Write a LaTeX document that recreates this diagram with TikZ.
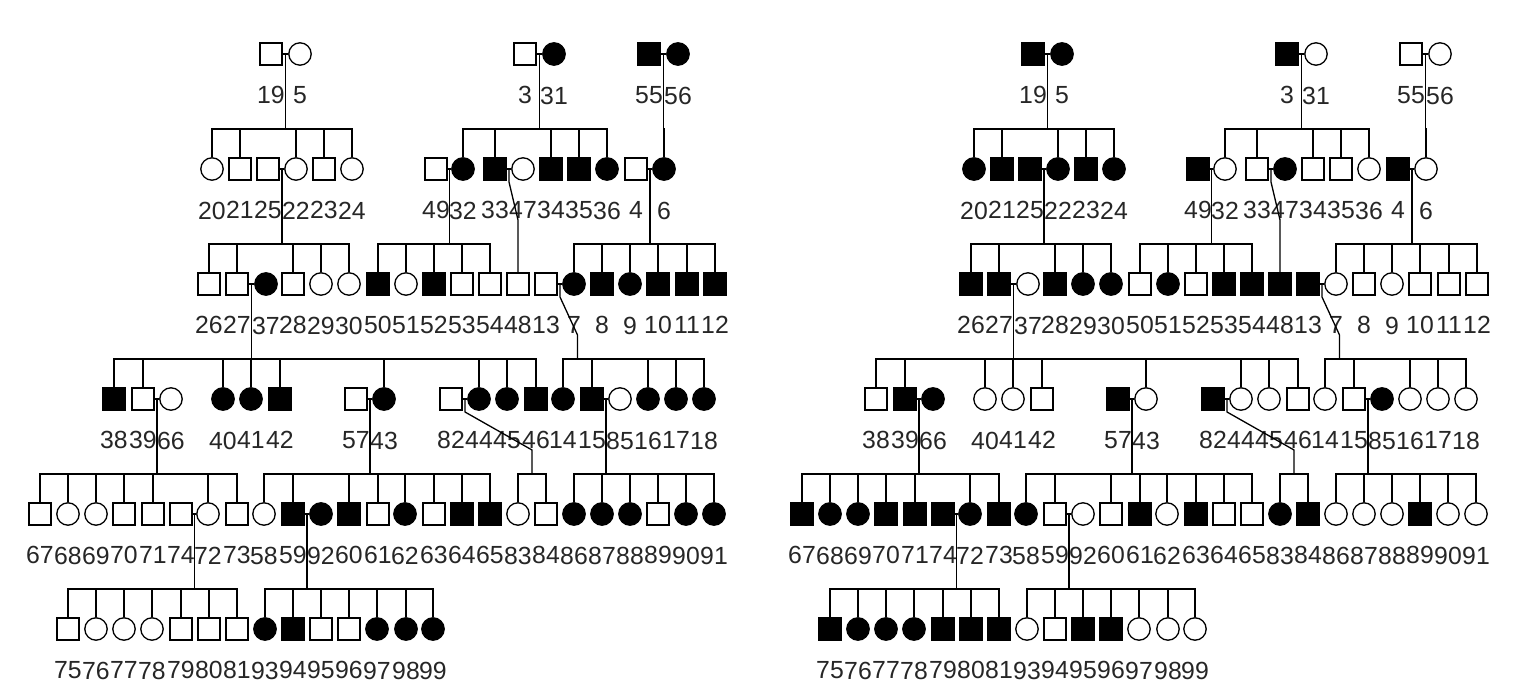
\documentclass[tikz,border=0pt]{standalone}
\usepackage{fontspec}
\setmainfont{Liberation Sans}
\usetikzlibrary{calc}
\tikzset{
	male/.style={draw, rectangle, minimum size=10.9pt, inner sep=0pt},
	female/.style={draw, circle, minimum size=11.2pt, inner sep=0pt},
	lab/.style={font=\fontsize{12.4}{14}\selectfont, inner sep=0pt, text=black!85},
}
\begin{document}
\begin{tikzpicture}[x=0.5pt, y=-0.5pt, line width=0.65pt, label distance=10.2pt]
	\useasboundingbox (0,0) rectangle (1517,694);
	\foreach \side/\dx/\on/\off in {L/0/black/white, R/381/white/black}{
		\begin{scope}[xshift=\dx pt,
			m0/.style={male, fill=\off}, m1/.style={male, fill=\on},
			f0/.style={female, fill=\off}, f1/.style={female, fill=\on}]
		% generation I
		\foreach \i/\x/\s in {19/271/m0, 5/300/f0, 3/525/m0, 31/554/f1, 55/649/m1, 56/678/f1}
			\node[\s, label={[lab]below:\i}] (\side\i) at (\x,54) {};
		% generation II
		\foreach \i/\x/\s in {20/212/f0, 21/240/m0, 25/268/m0, 22/296/f0, 23/324/m0, 24/352/f0,
			49/436/m0, 32/463/f1, 33/495/m1, 47/523/f0, 34/551/m1, 35/579/m1, 36/607/f1, 4/636/m0, 6/664/f1}
			\node[\s, label={[lab]below:\i}] (\side\i) at (\x,169) {};
		% generation III
		\foreach \i/\x/\s in {26/209/m0, 27/237/m0, 37/266/f1, 28/293/m0, 29/321/f0, 30/349/f0,
			50/378/m1, 51/406/f0, 52/434/m1, 53/462/m0, 54/490/m0, 48/518/m0, 13/546/m0,
			7/574/f1, 8/602/m1, 9/630/f1, 10/658/m1, 11/687/m1, 12/715/m1}
			\node[\s, label={[lab]below:\i}] (\side\i) at (\x,284) {};
		% generation IV
		\foreach \i/\x/\s in {38/114/m1, 39/143/m0, 66/171/f0, 40/223/f1, 41/251/f1, 42/280/m1,
			57/356/m0, 43/384/f1, 82/451/m0, 44/479/f1, 45/507/f1, 46/536/m1,
			14/563/f1, 15/592/m1, 85/620/f0, 16/648/f1, 17/676/f1, 18/704/f1}
			\node[\s, label={[lab]below:\i}] (\side\i) at (\x,399) {};
		% generation V
		\foreach \i/\x/\s in {67/40/m0, 68/68/f0, 69/96/f0, 70/124/m0, 71/153/m0, 74/181/m0, 72/208/f0, 73/237/m0,
			58/264/f0, 59/293/m1, 92/321/f1, 60/349/m1, 61/378/m0, 62/405/f1, 63/434/m0, 64/462/m1, 65/490/m1,
			83/518/f0, 84/546/m0, 86/574/f1, 87/602/f1, 88/630/f1, 89/658/m0, 90/686/f1, 91/714/f1}
			\node[\s, label={[lab]below:\i}] (\side\i) at (\x,514) {};
		% generation VI
		\foreach \i/\x/\s in {75/68/m0, 76/96/f0, 77/124/f0, 78/152/f0, 79/181/m0, 80/209/m0, 81/237/m0,
			93/265/f1, 94/293/m1, 95/321/m0, 96/349/m0, 97/377/f1, 98/406/f1, 99/433/f1}
			\node[\s, label={[lab]below:\i}] (\side\i) at (\x,629) {};
		\end{scope}
		% couples and sibships
		\foreach \p/\q/\k in {19/5/{20,21,22,23,24}, 3/31/{32,33,34,35,36}, 55/56/{6},
			25/22/{26,27,28,29,30}, 49/32/{50,51,52,53,54}, 4/6/{7,8,9,10,11,12},
			27/37/{38,39,40,41,42,43,44,45,46}, 39/66/{67,68,69,70,71,72,73},
			57/43/{58,59,60,61,62,63,64,65}, 15/85/{86,87,88,89,90,91},
			74/72/{75,76,77,78,79,80,81}, 59/92/{93,94,95,96,97,98,99}}{
			\draw (\side\p) -- (\side\q);
			\draw ($(\side\p)!.5!(\side\q)$) -- ++(0,75) coordinate (bar);
			\foreach \c in \k \draw (\side\c) |- (bar);
		}
		% bent lines of descent
		\draw (\side33) -- (\side47);
		\draw ($(\side33)!.5!(\side47)$) -- ++(0,13) -- ($(\side48)+(0,-64)$) -- (\side48);
		\draw (\side13) -- (\side7);
		\draw ($(\side13)!.5!(\side7)$) -- ++(0,13) -- ($(\side14)!.5!(\side15)+(0,-64)$) -- ++(0,24) coordinate (bar);
		\foreach \c in {14,15,16,17,18} \draw (\side\c) |- (bar);
		\draw (\side82) -- (\side44);
		\draw ($(\side82)!.5!(\side44)$) -- ++(0,13) -- ($(\side83)!.5!(\side84)+(0,-64)$) -- ++(0,24) coordinate (bar);
		\foreach \c in {83,84} \draw (\side\c) |- (bar);
	}
\end{tikzpicture}
\end{document}
